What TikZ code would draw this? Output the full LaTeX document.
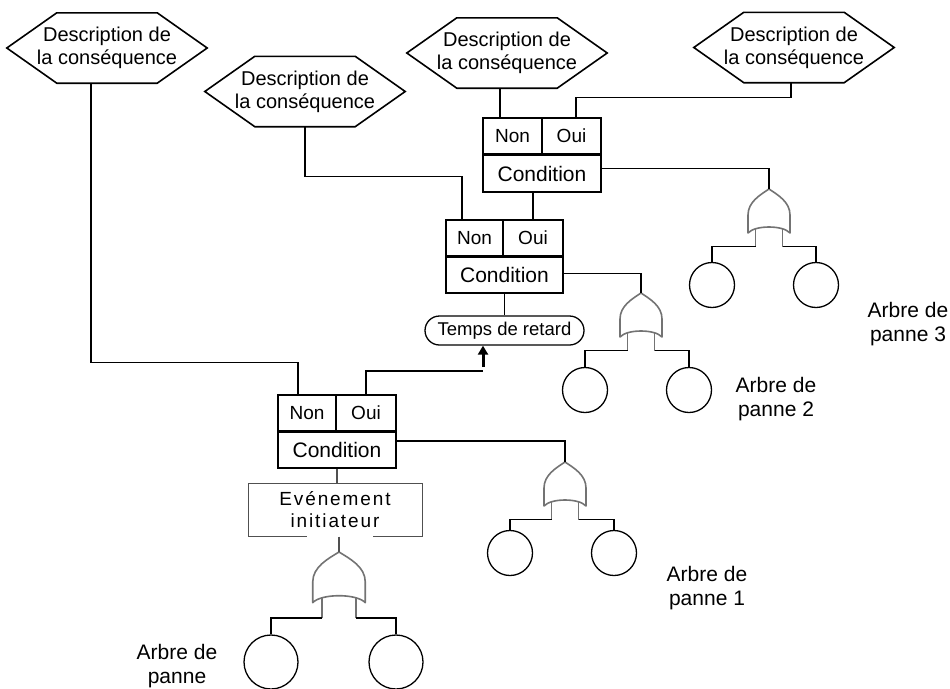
\documentclass[tikz,border=0pt]{standalone}
\usepackage{fontspec}
\setmainfont{Liberation Sans}
\newfontfamily\evfont[LetterSpace=10]{Liberation Sans}
\usetikzlibrary{arrows.meta,calc}
\definecolor{gatecol}{RGB}{115,115,115}
\definecolor{evcol}{RGB}{80,80,80}
\begin{document}
\begin{tikzpicture}[x=1pt,y=-1pt,
  conn/.style={line width=1.3pt, black},
  hexnode/.style={minimum width=200pt, minimum height=70pt, inner sep=0pt, align=center, font=\fontsize{20}{23}\selectfont},
  hexline/.style={line width=1.6pt, line join=miter},
  cell/.style={draw, line width=1.4pt, inner sep=0pt, minimum height=35.5pt, font=\fontsize{19}{22}\selectfont},
  condcell/.style={draw, line width=1.4pt, inner sep=0pt, font=\fontsize{21}{24}\selectfont},
  tmpbox/.style={draw, line width=1.3pt, rounded corners=14.5pt, minimum width=159pt, minimum height=29pt, inner sep=0pt, font=\fontsize{18.5}{21}\selectfont},
  evbox/.style={draw=evcol, line width=1pt, minimum width=174pt, minimum height=53pt, inner sep=0pt, align=center, font=\evfont\fontsize{19}{22}\selectfont},
  evline/.style={line width=1.2pt, evcol},
  leaf/.style={circle, draw, line width=1.3pt, minimum size=45pt, inner sep=0pt},
  bigleaf/.style={leaf, minimum size=54pt},
  lbl/.style={align=center, inner sep=0pt, font=\fontsize{21}{24}\selectfont},
  arrowline/.style={line width=3pt, -{Triangle[width=10pt,length=9pt]}},
  gateline/.style={gatecol, line width=1.6pt, line join=round},
  pics/orgate/.style={code={
    \draw[gateline]
      (0,0) .. controls (9,6) and (21,13) .. (21,26) -- (21,44)
      .. controls (14,36) and (-14,36) .. (-21,44) -- (-21,26)
      .. controls (-21,13) and (-9,6) .. (0,0) -- cycle;
    \draw[gateline] (-13.5,40) -- (-13.5,57.5) coordinate (-l);
    \draw[gateline] (13.5,40) -- (13.5,57.5) coordinate (-r);
    \coordinate (-tip) at (0,0);
  }}
]
\useasboundingbox (0,0) rectangle (950,688);

% hexagons
\foreach \n/\x/\y in {h1/107/48, h2/305/91.5, h3/507/53, h4/794/47.5}{
  \node[hexnode] (\n) at (\x,\y) {Description de\\la conséquence};
  \draw[hexline] ([xshift=50pt]\n.north west) -- ([xshift=-50pt]\n.north east) -- (\n.east)
     -- ([xshift=-50pt]\n.south east) -- ([xshift=50pt]\n.south west) -- (\n.west) -- cycle;
}

% condition boxes
\node[cell, minimum width=58pt] (n1) at (307,412.75) {Non};
\node[cell, minimum width=60pt] (o1) at (366,412.75) {Oui};
\node[condcell, minimum width=118pt, minimum height=36pt] (c1) at (337,450) {Condition};

\node[cell, minimum width=57pt] (n2) at (474.5,237.75) {Non};
\node[cell, minimum width=60pt] (o2) at (533,237.75) {Oui};
\node[condcell, minimum width=117pt, minimum height=36pt] (c2) at (504.5,275) {Condition};

\node[cell, minimum width=59pt] (n3) at (512.5,135.75) {Non};
\node[cell, minimum width=59pt] (o3) at (571.5,135.75) {Oui};
\node[condcell, minimum width=118pt, minimum height=37pt] (c3) at (542,173.5) {Condition};

% delay and initiating event
\node[tmpbox] (tmp) at (504.5,330.5) {Temps de retard};
\node[evbox] (ev) at (335,509.5) {Evénement\\initiateur};
\draw[white, line width=3pt] ([xshift=-28pt]ev.south) -- ([xshift=38pt]ev.south);

% gates
\pic (g3) at (769,189) {orgate};
\pic (g2) at (641,293) {orgate};
\pic (g1) at (565,462) {orgate};
\pic[xscale=1.25, yscale=1.15] (g0) at (339,552) {orgate};

% leaves
\node[leaf] (e31) at (712,285) {};
\node[leaf] (e32) at (816,285) {};
\node[leaf] (e21) at (585,390) {};
\node[leaf] (e22) at (689,390) {};
\node[leaf] (e11) at (510,553) {};
\node[leaf] (e12) at (614,553) {};
\node[bigleaf] (e01) at (271,662) {};
\node[bigleaf] (e02) at (396,662) {};

% labels
\node[lbl] (t3) at (908,324.5) {Arbre de\\panne 3};
\node[lbl] (t2) at (776,399.5) {Arbre de\\panne 2};
\node[lbl] (t1) at (707,588.5) {Arbre de\\panne 1};
\node[lbl] (t0) at (177,666) {Arbre de\\panne};

% connectors: consequences
\draw[conn] ([xshift=-16pt]h1.south) -- ++(0,279) -| ([xshift=-9pt]n1.north);
\draw[conn] (h2.south) -- ++(0,50) -| ([xshift=-12.5pt]n2.north);
\draw[conn] ([xshift=-12.5pt]n3.north) -- ([xshift=-12.5pt]n3.north |- h3.south);
\draw[conn] ([xshift=4.5pt]o3.north) -- ++(0,-20) -| ([xshift=-3pt]h4.south);
\draw[conn] (o2.north) -- (o2.north |- c3.south);
\draw[conn] (c2.south) -- (tmp.north);

% delay arrow
\coordinate (arr) at (483,371);
\draw[conn] (o1.north) |- (arr);
\draw[arrowline] ([yshift=4pt]arr) -- (arr |- tmp.south);

% initiating event
\draw[evline] (c1.south) -- (c1.south |- ev.north);
\draw[evline] (g0-tip |- ev.south) -- (g0-tip);

% conditions to gates
\draw[conn] ([yshift=5pt]c3.east) -| (g3-tip);
\draw[conn] ([yshift=1.5pt]c2.east) -| (g2-tip);
\draw[conn] ([yshift=9pt]c1.east) -| (g1-tip);

% gates to leaves
\foreach \g/\a/\b in {g3/e31/e32, g2/e21/e22, g1/e11/e12, g0/e01/e02}{
  \draw[conn] (\g-l) -| (\a.north);
  \draw[conn] (\g-r) -| (\b.north);
}
\end{tikzpicture}
\end{document}
